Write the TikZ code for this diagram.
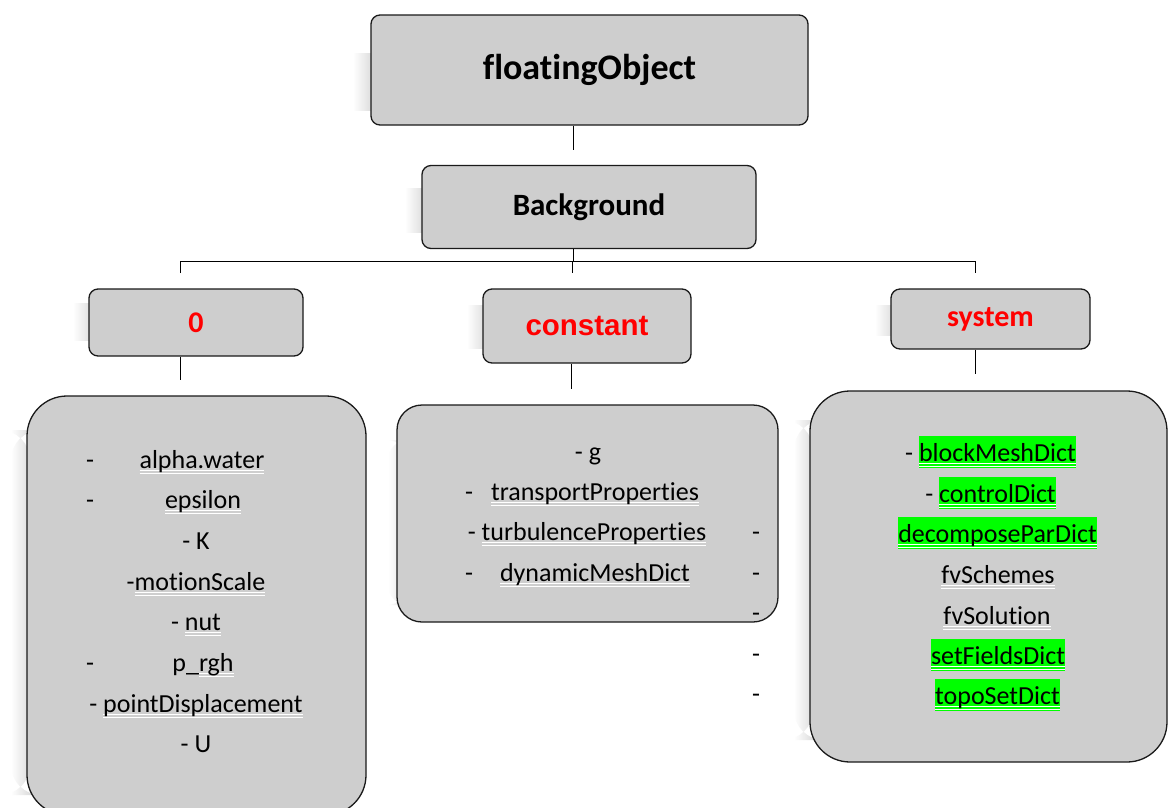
\documentclass[tikz,border=0pt]{standalone}
\usepackage{fontspec}
\setmainfont{Carlito}[Ligatures=NoCommon]
\newfontfamily\arialfont{Liberation Sans}
\definecolor{boxgray}{HTML}{CECECE}
\definecolor{hlgreen}{HTML}{00FF00}
\definecolor{edge}{HTML}{1A1A1A}
\definecolor{shadowgray}{HTML}{DCDCDC}
\newcommand\itemfont{\fontsize{26}{31}\selectfont}
\newcommand\wul[1]{\setbox0\hbox{#1}\rlap{\textcolor{white}{\rule[-2.5pt]{\wd0}{1pt}}}\rlap{\textcolor{white}{\rule[-5.5pt]{\wd0}{1pt}}}\box0}
\newcommand\hlw[1]{\setbox0\hbox{#1}\rlap{\textcolor{hlgreen}{\rule[-7pt]{\wd0}{32pt}}}\rlap{\textcolor{white}{\rule[-2.5pt]{\wd0}{1pt}}}\rlap{\textcolor{white}{\rule[-5.5pt]{\wd0}{1pt}}}\box0}
\newcommand\softshadow[5]{% x1 y1 x2 y2 radius
  \fill[shadowgray,rounded corners=#5] (#1+18,#2) rectangle (#3,#4);
  \shade[left color=white,right color=shadowgray,rounded corners=#5] (#1,#2) rectangle (#1+19,#4);}
\begin{document}
\begin{tikzpicture}[x=1pt,y=-1pt,
  tbox/.style={draw=edge,line width=1.3pt,fill=boxgray,rounded corners=9pt,inner sep=0pt},
  cbox/.style={draw=edge,line width=1.3pt,fill=boxgray,inner sep=0pt},
  conn/.style={draw=black,line width=1pt},
  item/.style={anchor=base,inner sep=0pt,font=\itemfont,text=black},
  redtitle/.style={text=red,font=\fontsize{30}{36}\selectfont\bfseries}]
\useasboundingbox (0,0) rectangle (1168,807);
\fill[white] (0,0) rectangle (1168,807);

% soft shadows
\softshadow{353}{53}{790}{110}{0pt}
\softshadow{405}{188}{740}{232}{0pt}
\softshadow{73}{303}{288}{340}{0pt}
\softshadow{467}{305}{675}{348}{0pt}
\softshadow{875}{305}{1073}{335}{0pt}
\softshadow{11}{430}{350}{795}{30pt}
\softshadow{388}{440}{760}{605}{20pt}
\softshadow{794}{420}{1150}{740}{30pt}

% title boxes
\node[tbox,minimum width=437pt,minimum height=110pt,font=\fontsize{36}{43}\selectfont\bfseries] (fo) at (589.5,70) {floatingObject};
\node[tbox,minimum width=334pt,minimum height=83pt,font=\fontsize{31}{37}\selectfont\bfseries] (bg) at (589,207) {Background};
\node[tbox,minimum width=214pt,minimum height=67pt,redtitle] (zero) at (196,322.5) {0};
\node[tbox,minimum width=208pt,minimum height=74pt,redtitle,font=\arialfont\fontsize{29.5}{35}\selectfont\bfseries] (const) at (587,326) {constant};
\node[tbox,minimum width=199pt,minimum height=60pt,redtitle] (sys) at (990.5,319) {system};

% connectors
\coordinate (k1) at (573,150);
\draw[conn] (fo.south -| k1) -- (k1);
\coordinate (k2) at (573,261);
\draw[conn] (bg.south -| k2) -- (k2);
\coordinate (bl) at (180,261);
\coordinate (br) at (975,261);
\coordinate (tl) at (180,273);
\coordinate (tm) at (572,273);
\coordinate (tr) at (975,273);
\draw[conn] (tl) -- (bl) -- (br) -- (tr);
\draw[conn] (tm |- bl) -- (tm);
\coordinate (zl) at (180,380);
\draw[conn] (zero.south -| zl) -- (zl);
\coordinate (cl) at (571,389);
\draw[conn] (const.south -| cl) -- (cl);
\coordinate (sl) at (975,374);
\draw[conn] (sys.south -| sl) -- (sl);

% content boxes
\node[cbox,rounded corners=40pt,minimum width=339pt,minimum height=419pt] (zc) at (196.5,605.5) {};
\node[cbox,rounded corners=25pt,minimum width=381pt,minimum height=217pt] (cc) at (587.5,513.5) {};
\node[cbox,rounded corners=40pt,minimum width=357pt,minimum height=371pt] (sc) at (988.5,576.5) {};

% left list
\node[item] (z1d) at (90,468) {-};
\node[item] (z1) at (202,468) {\wul{alpha.water}};
\node[item] (z2d) at (90,508.7) {-};
\node[item] (z2) at (203,508.7) {\wul{epsilon}};
\node[item] (z3) at (196,549.4) {- K};
\node[item] (z4) at (196,590) {-\wul{motionScale}};
\node[item] (z5) at (196,630.8) {- \wul{nut}};
\node[item] (z6d) at (90,671.5) {-};
\node[item] (z6) at (203,671.5) {p\_\wul{rgh}};
\node[item] (z7) at (196,712.2) {- \wul{pointDisplacement}};
\node[item] (z8) at (196,752.9) {- U};

% middle list
\node[item] (c1) at (588,460) {- g};
\node[item] (c2d) at (469,500) {-};
\node[item] (c2) at (595,500) {\wul{transportProperties}};
\node[item] (c3) at (587,540.5) {- \wul{turbulenceProperties}};
\node[item] (c4d) at (469,581) {-};
\node[item] (c4) at (595,581) {\wul{dynamicMeshDict}};
\node[item] (o1) at (756,540.5) {-};
\node[item] (o2) at (756,581) {-};
\node[item] (o3) at (756,621.5) {-};
\node[item] (o4) at (756,662) {-};
\node[item] (o5) at (756,702.5) {-};

% right list
\node[item] (s1) at (990.5,461) {- \hlw{blockMeshDict}};
\node[item] (s2) at (990.5,502) {- \hlw{controlDict}};
\node[item] (s3) at (997.5,542) {\hlw{decomposeParDict}};
\node[item] (s4) at (998,583) {\wul{fvSchemes}};
\node[item] (s5) at (997,624) {\wul{fvSolution}};
\node[item] (s6) at (998,664) {\hlw{setFieldsDict}};
\node[item] (s7) at (997.5,704) {\hlw{topoSetDict}};
\end{tikzpicture}
\end{document}
